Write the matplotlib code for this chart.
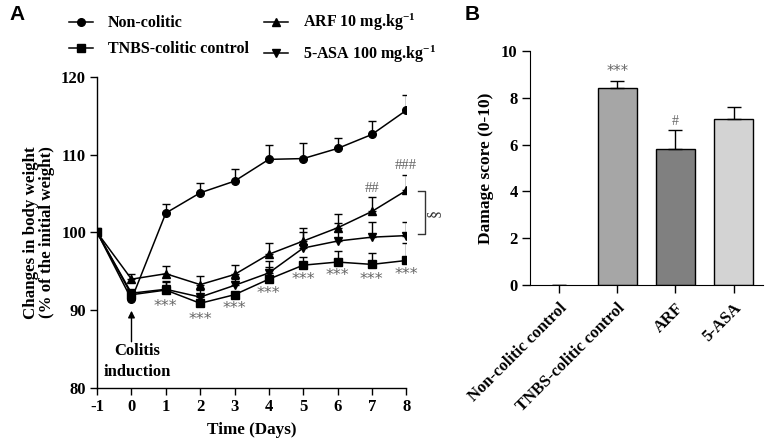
import matplotlib
matplotlib.use("Agg")
import matplotlib.pyplot as plt
import numpy as np

plt.rcParams['font.family'] = ['Liberation Serif', 'DejaVu Serif']
plt.rcParams['font.weight'] = 'bold'
plt.rcParams['axes.unicode_minus'] = False
plt.rcParams['mathtext.fontset'] = 'custom'
plt.rcParams['mathtext.rm'] = 'Liberation Serif:bold'
plt.rcParams['mathtext.bf'] = 'Liberation Serif:bold'
plt.rcParams['mathtext.default'] = 'bf'

# ---------------- Data: panel A ----------------
days = [-1, 0, 1, 2, 3, 4, 5, 6, 7, 8]
non_colitic = [100, 91.4, 102.5, 105.1, 106.6, 109.4, 109.5, 110.8, 112.6, 115.7]
non_colitic_err = [0, 0, 1.1, 1.3, 1.6, 1.9, 2.0, 1.4, 1.7, 2.0]
tnbs = [100, 92.0, 92.6, 90.9, 92.0, 94.0, 95.8, 96.2, 95.9, 96.4]
tnbs_err = [0, 0, 1.0, 1.0, 0, 1.5, 1.1, 1.4, 1.4, 2.2]
arf = [100, 94.0, 94.7, 93.3, 94.6, 97.2, 98.9, 100.6, 102.7, 105.4]
arf_err = [0, 0.6, 1.0, 1.1, 1.2, 1.4, 1.7, 1.8, 1.8, 2.0]
asa = [100, 92.2, 92.7, 91.7, 93.2, 94.8, 98.0, 98.9, 99.4, 99.6]
asa_err = [0, 0, 1.1, 0.9, 0.8, 1.5, 2.0, 2.3, 2.0, 1.7]
star_days = [1, 2, 3, 4, 5, 6, 7, 8]
star_y = [90.5, 88.8, 90.2, 92.2, 93.9, 94.5, 93.9, 94.6]
hash_days = [7, 8]
hash_labels = ['##', '###']
hash_y = [105.6, 108.6]

# ---------------- Data: panel B ----------------
groups = ['Non-colitic control', 'TNBS-colitic control', 'ARF', '5-ASA']
scores = [0, 8.4, 5.8, 7.1]
score_err = [0, 0.32, 0.8, 0.5]
bar_colors = ['#ffffff', '#a6a6a6', '#808080', '#d3d3d3']
bar_marks = ['', '***', '#', '']

fig = plt.figure(figsize=(7.65, 4.42), dpi=100)

axA = fig.add_axes([0.127, 0.122, 0.404, 0.704])
axB = fig.add_axes([0.693, 0.355, 0.304, 0.530])

series = [
    ('Non-colitic', non_colitic, non_colitic_err, 'o'),
    ('TNBS-colitic control', tnbs, tnbs_err, 's'),
    ('ARF 10 mg.kg$^{-1}$', arf, arf_err, '^'),
    ('5-ASA 100 mg.kg$^{-1}$', asa, asa_err, 'v'),
]
handles = []
for name, vals, err, mk in series:
    y = np.array(vals)
    e = np.array(err)
    axA.errorbar(days, y, yerr=[np.zeros_like(e), e], fmt='none', ecolor='black',
                 elinewidth=1.0, capsize=3, capthick=1.0, zorder=2)
    ln, = axA.plot(days, y, color='black', lw=1.1, marker=mk, markersize=5.5,
                   markerfacecolor='black', markeredgecolor='black', zorder=3)
    handles.append(ln)

for d, yv in zip(star_days, star_y):
    axA.text(d, yv, '***', ha='center', va='center', fontsize=11.5, color='#666666',
             family='DejaVu Sans', fontweight='normal')
for d, lab, yv in zip(hash_days, hash_labels, hash_y):
    axA.text(d, yv, lab, ha='center', va='center', fontsize=10.5, color='#666666',
             fontweight='normal')

# bracket and section sign
axA.plot([8.35, 8.55, 8.55, 8.35], [105.3, 105.3, 99.8, 99.8], color='#333333', lw=1.0,
         clip_on=False)
axA.text(8.82, 102.5, '§', rotation=90, ha='center', va='center', fontsize=11.5,
         color='#333333', fontweight='normal')

# arrow & annotation
axA.annotate('', xy=(0, 90.3), xytext=(0, 85.6),
             arrowprops=dict(arrowstyle='-|>', color='black', lw=1.0, mutation_scale=10))
axA.text(0.17, 84.8, 'Colitis', ha='center', va='center', fontsize=12)
axA.text(0.17, 82.1, 'induction', ha='center', va='center', fontsize=12)

axA.set_xlim(-1, 8)
axA.set_ylim(80, 120)
axA.set_xticks(days)
axA.set_yticks([80, 90, 100, 110, 120])
axA.set_xlabel('Time (Days)', fontsize=12.3, fontweight='bold', labelpad=5)
axA.set_ylabel('Changes in body weight\n(% of the initial weight)', fontsize=12.2,
               fontweight='bold', labelpad=4, linespacing=1.05)
for s in ['top', 'right']:
    axA.spines[s].set_visible(False)
for s in ['left', 'bottom']:
    axA.spines[s].set_linewidth(1.0)
axA.tick_params(direction='out', length=5, width=1.0, labelsize=12, pad=3)
for lab in axA.get_xticklabels() + axA.get_yticklabels():
    lab.set_fontweight('bold')

leg = fig.legend(handles, [s[0] for s in series],
                 ncol=2, loc='upper left', bbox_to_anchor=(0.071, 1.005), frameon=False,
                 fontsize=11.5, handlelength=1.5, columnspacing=0.95, handletextpad=0.95,
                 labelspacing=0.62)
for t in leg.get_texts():
    t.set_fontweight('bold')

# ---------------- panel B ----------------
xpos = np.arange(len(groups))
lws = [0 if v == 0 else 1.0 for v in scores]
axB.bar(xpos, scores, width=0.67, color=bar_colors, edgecolor='black', linewidth=lws,
        zorder=2)
axB.errorbar(xpos, scores, yerr=[np.zeros(len(scores)), score_err], fmt='none',
             ecolor='black', elinewidth=1.0, capsize=5, capthick=1.0, zorder=3)
for x, v, e, m in zip(xpos, scores, score_err, bar_marks):
    if m:
        axB.text(x, v + e + 0.38, m, ha='center', va='center',
                 fontsize=10.5 if m == '***' else 10,
                 color='#666666', fontweight='normal',
                 family='DejaVu Sans' if m == '***' else 'Liberation Serif')
axB.set_xlim(-0.5, 3.5)
axB.set_ylim(0, 10)
axB.set_yticks([0, 2, 4, 6, 8, 10])
axB.set_xticks(xpos)
axB.set_xticklabels(groups, rotation=45, ha='right', rotation_mode='anchor',
                    fontsize=11, fontweight='bold')
axB.set_ylabel('Damage score (0-10)', fontsize=12.5, fontweight='bold', labelpad=5)
for s in ['top', 'right']:
    axB.spines[s].set_visible(False)
axB.tick_params(direction='out', length=6, width=1.0, labelsize=12, pad=3)
axB.tick_params(axis='x', pad=5)
for lab in axB.get_yticklabels():
    lab.set_fontweight('bold')

fig.text(0.012, 0.955, 'A', fontsize=15, fontweight='bold', family='Liberation Sans')
fig.text(0.608, 0.955, 'B', fontsize=15, fontweight='bold', family='Liberation Sans')

fig.savefig('out.png', dpi=100)
